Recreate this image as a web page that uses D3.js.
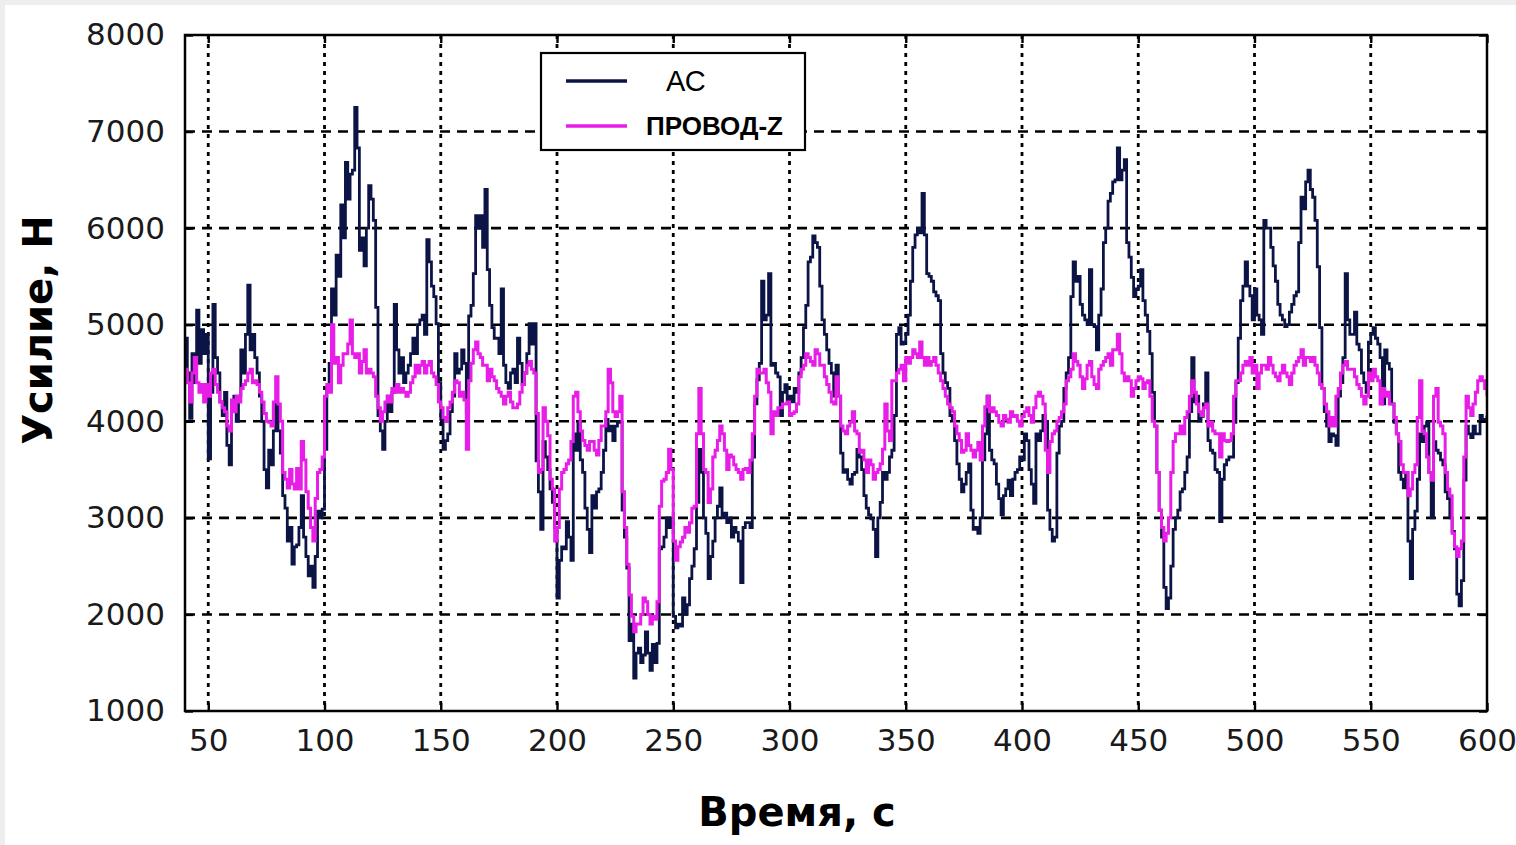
<!DOCTYPE html>
<meta charset="utf-8">
<style>
body { margin: 0; background: #eeeef0; }
svg { display: block; }
.tick-label { font-family: "DejaVu Sans", sans-serif; font-size: 31px; fill: #1a1a1a; }
.axis-title { font-family: "DejaVu Sans", sans-serif; font-weight: bold; font-size: 40px; fill: #000; }
.grid-x line { stroke: #000; stroke-width: 2.8; stroke-dasharray: 4,5; }
.grid-y line { stroke: #000; stroke-width: 2.6; stroke-dasharray: 10,7; }
</style>

<svg width="1516" height="845"></svg>

<script src="https://d3js.org/d3.v7.min.js"></script>
<script>

// time axis: one reading per second starting at t = 40 s
var startTime = 40;

var xTicks = [50, 100, 150, 200, 250, 300, 350, 400, 450, 500, 550, 600];
var yTicks = [1000, 2000, 3000, 4000, 5000, 6000, 7000, 8000];

var seriesNames = ["АС", "ПРОВОД-Z"];

// АС, Н
var acValues = [
  4860, 4500, 4030, 4700, 4400, 5150, 4600, 4950, 4700, 4900,
  3610, 4300, 5210, 4660, 4500, 4200, 4060, 4300, 3750, 3550,
  4100, 4260, 4000, 4260, 4740, 4500, 4900, 5410, 4740, 4900,
  4660, 4500, 4260, 4000, 3500, 3310, 3700, 3550, 3900, 4180,
  3900, 3670, 3230, 3100, 2760, 2900, 2520, 2700, 2720, 2900,
  3230, 2800, 2600, 2400, 2500, 2280, 2600, 3070, 3000, 3090,
  3710, 4340, 4600, 5370, 5100, 5720, 5500, 6240, 5900, 6680,
  6300, 6560, 6600, 7250, 6830, 5770, 5900, 5610, 6000, 6440,
  6300, 6080, 5180, 4060, 3900, 3710, 4000, 4260, 4100, 4300,
  5210, 4740, 4500, 4660, 4400, 4500, 4580, 4700, 4860, 4700,
  5000, 5050, 5100, 4900, 5880, 5650, 5400, 5290, 5010, 4400,
  4020, 3710, 3800, 3870, 4100, 4260, 4700, 4500, 4540, 4740,
  4600, 4100, 5090, 5200, 5530, 6130, 6000, 6130, 5800, 6400,
  5570, 5200, 4970, 4860, 4860, 4700, 5370, 4580, 4400, 4340,
  4500, 4540, 4400, 4860, 4600, 4380, 4500, 4700, 5010, 4800,
  5010, 3590, 3270, 2880, 3790, 3630, 3500, 3300, 3160, 2900,
  2170, 2560, 2700, 2680, 2960, 2800, 2560, 3870, 3700, 3990,
  3600, 3470, 3100, 2880, 2640, 3230, 3100, 3270, 3300, 3470,
  3700, 4020, 3900, 3950, 3800, 3950, 4000, 3990, 3080, 2800,
  2480, 1730, 1900, 1340, 1600, 1650, 1500, 1580, 1820, 1600,
  1420, 1690, 1500, 1700, 2680, 2700, 2800, 3000, 2900, 3000,
  1980, 1860, 1900, 1880, 2170, 2000, 2100, 2370, 2500, 2680,
  3160, 3710, 3470, 3000, 2840, 2370, 2600, 2760, 3000, 3120,
  3310, 3000, 3050, 2950, 3000, 2800, 2900, 2850, 2760, 2330,
  2900, 2950, 2950, 2900, 3630, 4180, 4430, 4600, 5450, 5050,
  5100, 5530, 4580, 4600, 4500, 4460, 4060, 4300, 4380, 4200,
  4260, 4200, 4340, 4300, 4500, 4660, 4970, 5200, 5650, 5700,
  5920, 5850, 5800, 5400, 5050, 4900, 4740, 4600, 4500, 4260,
  4580, 4260, 3670, 3470, 3500, 3400, 3350, 3450, 3470, 3710,
  3630, 3500, 3230, 3100, 3030, 2990, 2880, 2600, 3000, 3160,
  3470, 3400, 3470, 3630, 3700, 4060, 4900, 4970, 4800, 4820,
  4900, 5100, 5450, 5800, 5930, 6000, 5950, 6360, 5930, 5530,
  5500, 5450, 5340, 5300, 5250, 4700, 4500, 4400, 4340, 4060,
  4020, 3800, 3560, 3400, 3270, 3350, 3470, 3560, 3080, 2880,
  2900, 2840, 3000, 3600, 3870, 4260, 3700, 3600, 3560, 3350,
  3200, 3030, 3230, 3300, 3390, 3230, 3400, 3470, 3500, 3630,
  3600, 3870, 3800, 3500, 3350, 3150, 3870, 3800, 3900, 4060,
  4000, 3080, 2880, 2760, 2800, 3670, 3950, 4000, 4340, 4500,
  4660, 5290, 5650, 5450, 5500, 5210, 5100, 5050, 5000, 5570,
  5000, 4980, 4740, 5100, 5370, 5850, 6000, 6280, 6360, 6480,
  6500, 6830, 6500, 6600, 6710, 5850, 5700, 5490, 5290, 5370,
  5400, 5570, 5250, 5100, 4930, 4700, 4300, 3950, 3470, 3080,
  2800, 2280, 2060, 2170, 2500, 2880, 3000, 3080, 3270, 3300,
  3470, 3630, 4100, 4660, 4200, 4260, 4000, 4050, 4180, 4500,
  3800, 3700, 3670, 3500, 3470, 2960, 3400, 3550, 3600, 3630,
  3630, 3990, 4400, 4860, 5250, 5400, 5650, 5400, 5300, 5050,
  5370, 5100, 5050, 4900, 6080, 6000, 6000, 5800, 5610, 5450,
  5210, 5100, 5050, 4980, 5000, 5130, 5210, 5300, 5340, 5850,
  6320, 6200, 6480, 6600, 6400, 6320, 6080, 5600, 4970, 4340,
  4100, 3950, 3790, 3870, 3850, 3750, 4260, 4400, 4660, 5530,
  5050, 4900, 4900, 5130, 4800, 4740, 4500, 4400, 4300, 4820,
  4900, 4970, 4860, 4800, 4660, 4180, 4740, 4600, 4540, 4180,
  3990, 3870, 3470, 3400, 3310, 3470, 2760, 2370, 2880, 3070,
  3400, 3870, 3790, 3950, 3990, 3470, 3000, 3790, 3700, 3670,
  3600, 3550, 3270, 3200, 3000, 2860, 2680, 2210, 2090, 2350,
  3390, 3950, 3870, 3830, 3950, 3870, 3870, 4060, 4020, 4000,
  4060
];

// ПРОВОД-Z, Н
var wireValues = [
  4540, 4400, 4200, 4500, 4660, 4400, 4300, 4380, 4200, 4380,
  4260, 4500, 4540, 4380, 4300, 4200, 4140, 4100, 3950, 3900,
  4220, 4100, 4260, 4200, 4340, 4380, 4420, 4500, 4540, 4400,
  4420, 4380, 4300, 4200, 4080, 4000, 3990, 3950, 4200, 4460,
  4180, 4000, 3470, 3400, 3310, 3500, 3350, 3300, 3510, 3300,
  3790, 3600, 3270, 3100, 2900, 2760, 3200, 3470, 3500, 3630,
  4260, 4380, 4300, 5000, 4600, 4660, 4400, 4580, 4700, 4700,
  4800, 5050, 4700, 4660, 4700, 4500, 4620, 4740, 4500, 4540,
  4500, 4460, 4260, 4140, 4000, 4100, 4200, 4260, 4200, 4340,
  4300, 4380, 4300, 4340, 4300, 4260, 4300, 4400, 4460, 4580,
  4500, 4580, 4620, 4500, 4580, 4620, 4500, 4460, 4380, 4200,
  4140, 4040, 4000, 4140, 4200, 4300, 4420, 4400, 4260, 4300,
  4220, 3710, 4420, 4600, 4740, 4820, 4700, 4660, 4580, 4580,
  4420, 4540, 4460, 4420, 4340, 4300, 4260, 4180, 4260, 4300,
  4200, 4140, 4140, 4180, 4300, 4380, 4500, 4580, 4620, 4540,
  4500, 4080, 3470, 3500, 4140, 4000, 3850, 3400, 3300, 2760,
  2900, 3300, 3470, 3500, 3560, 3600, 3790, 4260, 4300, 4100,
  3900, 3800, 3750, 3700, 3790, 3790, 3700, 3650, 3800, 3950,
  3950, 4100, 4540, 4400, 4100, 4050, 4100, 4260, 3270, 2900,
  2520, 2200, 1980, 1820, 1900, 1900, 2000, 2170, 2130, 2000,
  1900, 1980, 1950, 2130, 3120, 3380, 3400, 3470, 3710, 3500,
  2760, 2560, 2700, 2750, 2800, 2900, 2850, 2950, 3100, 3120,
  3870, 4340, 3870, 3500, 3470, 3160, 3300, 3630, 3700, 3800,
  3950, 3870, 3700, 3500, 3650, 3630, 3550, 3500, 3470, 3400,
  3500, 3510, 3470, 3600, 3870, 4260, 4540, 4500, 4500, 4540,
  4400, 4300, 3870, 4100, 4060, 4140, 4140, 4180, 4180, 4200,
  4060, 4080, 4100, 4180, 4460, 4540, 4580, 4700, 4660, 4620,
  4580, 4740, 4700, 4580, 4580, 4460, 4380, 4300, 4200, 4180,
  4460, 4260, 3950, 3900, 3870, 3950, 3990, 4100, 3900, 3870,
  3680, 3700, 3600, 3470, 3600, 3550, 3400, 3470, 3500, 3560,
  3710, 4180, 3900, 3800, 4420, 4420, 4500, 4540, 4580, 4420,
  4660, 4600, 4660, 4740, 4700, 4660, 4820, 4660, 4580, 4660,
  4580, 4620, 4660, 4580, 4500, 4420, 4340, 4260, 4180, 4140,
  4100, 3950, 3870, 3800, 3680, 3700, 3870, 3750, 3700, 3630,
  3700, 3780, 3600, 3950, 4150, 4260, 4100, 4140, 4100, 4060,
  3990, 3950, 4060, 4020, 3990, 4100, 4050, 4060, 4000, 3950,
  4050, 4100, 4140, 4060, 3990, 4140, 4260, 4300, 4260, 4180,
  3700, 3470, 3790, 3870, 3900, 4000, 4040, 4100, 4180, 4420,
  4460, 4540, 4700, 4620, 4580, 4460, 4340, 4440, 4580, 4620,
  4460, 4380, 4340, 4540, 4580, 4620, 4660, 4700, 4580, 4740,
  4740, 4900, 4700, 4500, 4420, 4460, 4420, 4260, 4340, 4420,
  4460, 4440, 4340, 4400, 4420, 4260, 4000, 3950, 3470, 3080,
  2900, 2760, 2840, 3000, 3470, 3790, 3870, 3870, 3950, 3870,
  4040, 4100, 4260, 4420, 4300, 4180, 4100, 4060, 4140, 4180,
  3950, 3990, 3900, 3870, 3870, 3630, 3870, 3800, 3790, 3800,
  3870, 4260, 4420, 4420, 4500, 4580, 4620, 4580, 4660, 4500,
  4580, 4340, 4500, 4580, 4580, 4540, 4660, 4580, 4500, 4460,
  4420, 4500, 4580, 4500, 4460, 4380, 4500, 4580, 4620, 4660,
  4740, 4580, 4660, 4660, 4620, 4660, 4580, 4500, 4380, 4340,
  4180, 4100, 3950, 4040, 3950, 4260, 4340, 4500, 4580, 4620,
  4540, 4540, 4540, 4460, 4380, 4340, 4260, 4180, 4260, 4500,
  4420, 4540, 4460, 4420, 4180, 4340, 4260, 4300, 4180, 4180,
  4040, 3870, 3790, 3550, 3470, 3470, 3230, 3300, 3470, 3550,
  4040, 4420, 3900, 3870, 3630, 3470, 3390, 4260, 4340, 3990,
  3950, 3870, 3470, 3300, 3230, 2840, 2700, 2600, 2680, 2760,
  3630, 4260, 4140, 4060, 4180, 4300, 4420, 4460, 4420, 4340,
  4260
];

var seriesColors = ["#0c1446", "#e81ee8"];

var svg = d3.select("svg"),
    width = +svg.attr("width"),
    height = +svg.attr("height");

// white sheet with a thin grey frame at the top/left
svg.append("rect")
    .attr("x", 5).attr("y", 5)
    .attr("width", width - 5).attr("height", height - 5)
    .attr("fill", "#fff");

var margin = {left: 185, right: 1487, top: 35, bottom: 711};

var x = d3.scaleLinear().domain([40, 600]).range([margin.left, margin.right]);
var y = d3.scaleLinear().domain([1000, 8000]).range([margin.bottom, margin.top]);

// grid
svg.append("g")
    .attr("class", "grid-x")
  .selectAll("line")
  .data(xTicks.slice(0, -1))
  .enter().append("line")
    .attr("x1", function(d) { return x(d); })
    .attr("x2", function(d) { return x(d); })
    .attr("y1", margin.top)
    .attr("y2", margin.bottom);

svg.append("g")
    .attr("class", "grid-y")
  .selectAll("line")
  .data(yTicks.slice(1, -1))
  .enter().append("line")
    .attr("x1", margin.left)
    .attr("x2", margin.right)
    .attr("y1", function(d) { return y(d); })
    .attr("y2", function(d) { return y(d); });

// series
svg.append("clipPath").attr("id", "plotclip")
  .append("rect")
    .attr("x", margin.left).attr("y", margin.top)
    .attr("width", margin.right - margin.left)
    .attr("height", margin.bottom - margin.top);

function toPoints(values) {
  return values.map(function(v, i) { return {t: startTime + i, v: v}; });
}

var line = d3.line()
    .x(function(d) { return x(d.t); })
    .y(function(d) { return y(d.v); })
    .curve(d3.curveStepAfter);

var plot = svg.append("g").attr("clip-path", "url(#plotclip)");

plot.append("path")
    .datum(toPoints(acValues))
    .attr("fill", "none")
    .attr("stroke", seriesColors[0])
    .attr("stroke-width", 2.8)
    .attr("d", line);

plot.append("path")
    .datum(toPoints(wireValues))
    .attr("fill", "none")
    .attr("stroke", seriesColors[1])
    .attr("stroke-width", 3)
    .attr("d", line);

// frame and inward ticks
svg.append("rect")
    .attr("x", margin.left).attr("y", margin.top)
    .attr("width", margin.right - margin.left)
    .attr("height", margin.bottom - margin.top)
    .attr("fill", "none")
    .attr("stroke", "#000")
    .attr("stroke-width", 2.5);

var fmt = d3.format("d");
var xAxisB = d3.axisBottom(x).tickValues(xTicks).tickFormat(fmt).tickSizeInner(-8).tickSizeOuter(0).tickPadding(18);
var xAxisT = d3.axisTop(x).tickValues(xTicks).tickSizeInner(-8).tickSizeOuter(0).tickFormat("");
var yAxisL = d3.axisLeft(y).tickValues(yTicks).tickFormat(fmt).tickSizeInner(-8).tickSizeOuter(0).tickPadding(20);
var yAxisR = d3.axisRight(y).tickValues(yTicks).tickSizeInner(-8).tickSizeOuter(0).tickFormat("");

function styleAxis(g) {
  g.attr("font-size", null).attr("font-family", null);
  g.select(".domain").remove();
  g.selectAll(".tick line").attr("stroke", "#000").attr("stroke-width", 2.4);
  g.selectAll(".tick text").attr("class", "tick-label").attr("fill", null);
}

svg.append("g").attr("transform", "translate(0," + margin.bottom + ")").call(xAxisB).call(styleAxis);
svg.append("g").attr("transform", "translate(0," + margin.top + ")").call(xAxisT).call(styleAxis);
svg.append("g").attr("transform", "translate(" + margin.left + ",0)").call(yAxisL).call(styleAxis);
svg.append("g").attr("transform", "translate(" + margin.right + ",0)").call(yAxisR).call(styleAxis);

// axis titles
svg.append("text")
    .attr("class", "axis-title")
    .attr("x", 797).attr("y", 826)
    .attr("text-anchor", "middle")
    .text("Время, с");

svg.append("text")
    .attr("class", "axis-title")
    .attr("transform", "translate(52,330) rotate(-90)")
    .attr("text-anchor", "middle")
    .text("Усилие, Н");

// legend
var legend = svg.append("g").attr("transform", "translate(541,53)");

legend.append("rect")
    .attr("width", 264).attr("height", 97)
    .attr("fill", "#fff")
    .attr("stroke", "#000")
    .attr("stroke-width", 2.2);

var legendRows = [
  {name: seriesNames[0], color: seriesColors[0], y: 28, tx: 125, weight: "normal", size: 29},
  {name: seriesNames[1], color: seriesColors[1], y: 73, tx: 105, weight: "bold", size: 26}
];

legendRows.forEach(function(r) {
  legend.append("line")
      .attr("x1", 25).attr("x2", 86)
      .attr("y1", r.y).attr("y2", r.y)
      .attr("stroke", r.color)
      .attr("stroke-width", 3.5);
  legend.append("text")
      .attr("x", r.tx).attr("y", r.y)
      .attr("dy", "0.36em")
      .attr("font-family", "Liberation Sans, Arial, sans-serif")
      .attr("font-weight", r.weight)
      .attr("font-size", r.size)
      .attr("fill", "#000")
      .text(r.name);
});

</script>
